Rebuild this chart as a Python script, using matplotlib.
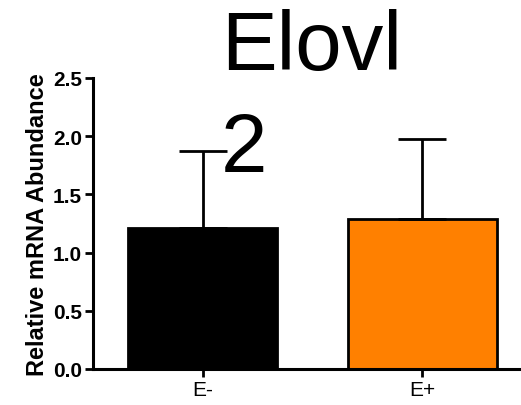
import matplotlib
matplotlib.use("Agg")
from matplotlib import pyplot as plt

# data
groups = ["E-", "E+"]
means = [1.21, 1.29]
sd = [0.66, 0.69]
colors = ["#000000", "#ff8000"]

plt.rcParams['font.family'] = ['Liberation Sans', 'DejaVu Sans']

fig = plt.figure(figsize=(5.21, 4.06), dpi=100)
ax = fig.add_axes([93/521, 36/406, 1 - 93/521, (370-79)/406])

pos = range(len(groups))
ax.bar(pos, means, width=0.68, color=colors, edgecolor="black", linewidth=2)
ax.errorbar(pos, means, yerr=[[0, 0], sd], fmt="none", ecolor="black",
            elinewidth=2, capsize=17, capthick=2)

ax.set_xlim(-0.5, 1.45)
ax.set_ylim(0, 2.5)
ax.set_yticks([0, 0.5, 1.0, 1.5, 2.0, 2.5])
ax.set_yticklabels(["0.0", "0.5", "1.0", "1.5", "2.0", "2.5"], fontsize=15, fontweight="bold")
ax.set_xticks(list(pos))
ax.set_xticklabels(groups, fontsize=15)
ax.set_ylabel("Relative mRNA Abundance", fontsize=17, fontweight="bold", labelpad=3)

for s in ["top", "right"]:
    ax.spines[s].set_visible(False)
for s in ["left", "bottom"]:
    ax.spines[s].set_linewidth(2.2)
ax.tick_params(width=2, length=6, pad=2)

fig.text(221/521, 1 - 9/406, "Elovl\n2", fontsize=60, ha="left", va="top",
         linespacing=1.4)

fig.savefig("out.png", dpi=100)
